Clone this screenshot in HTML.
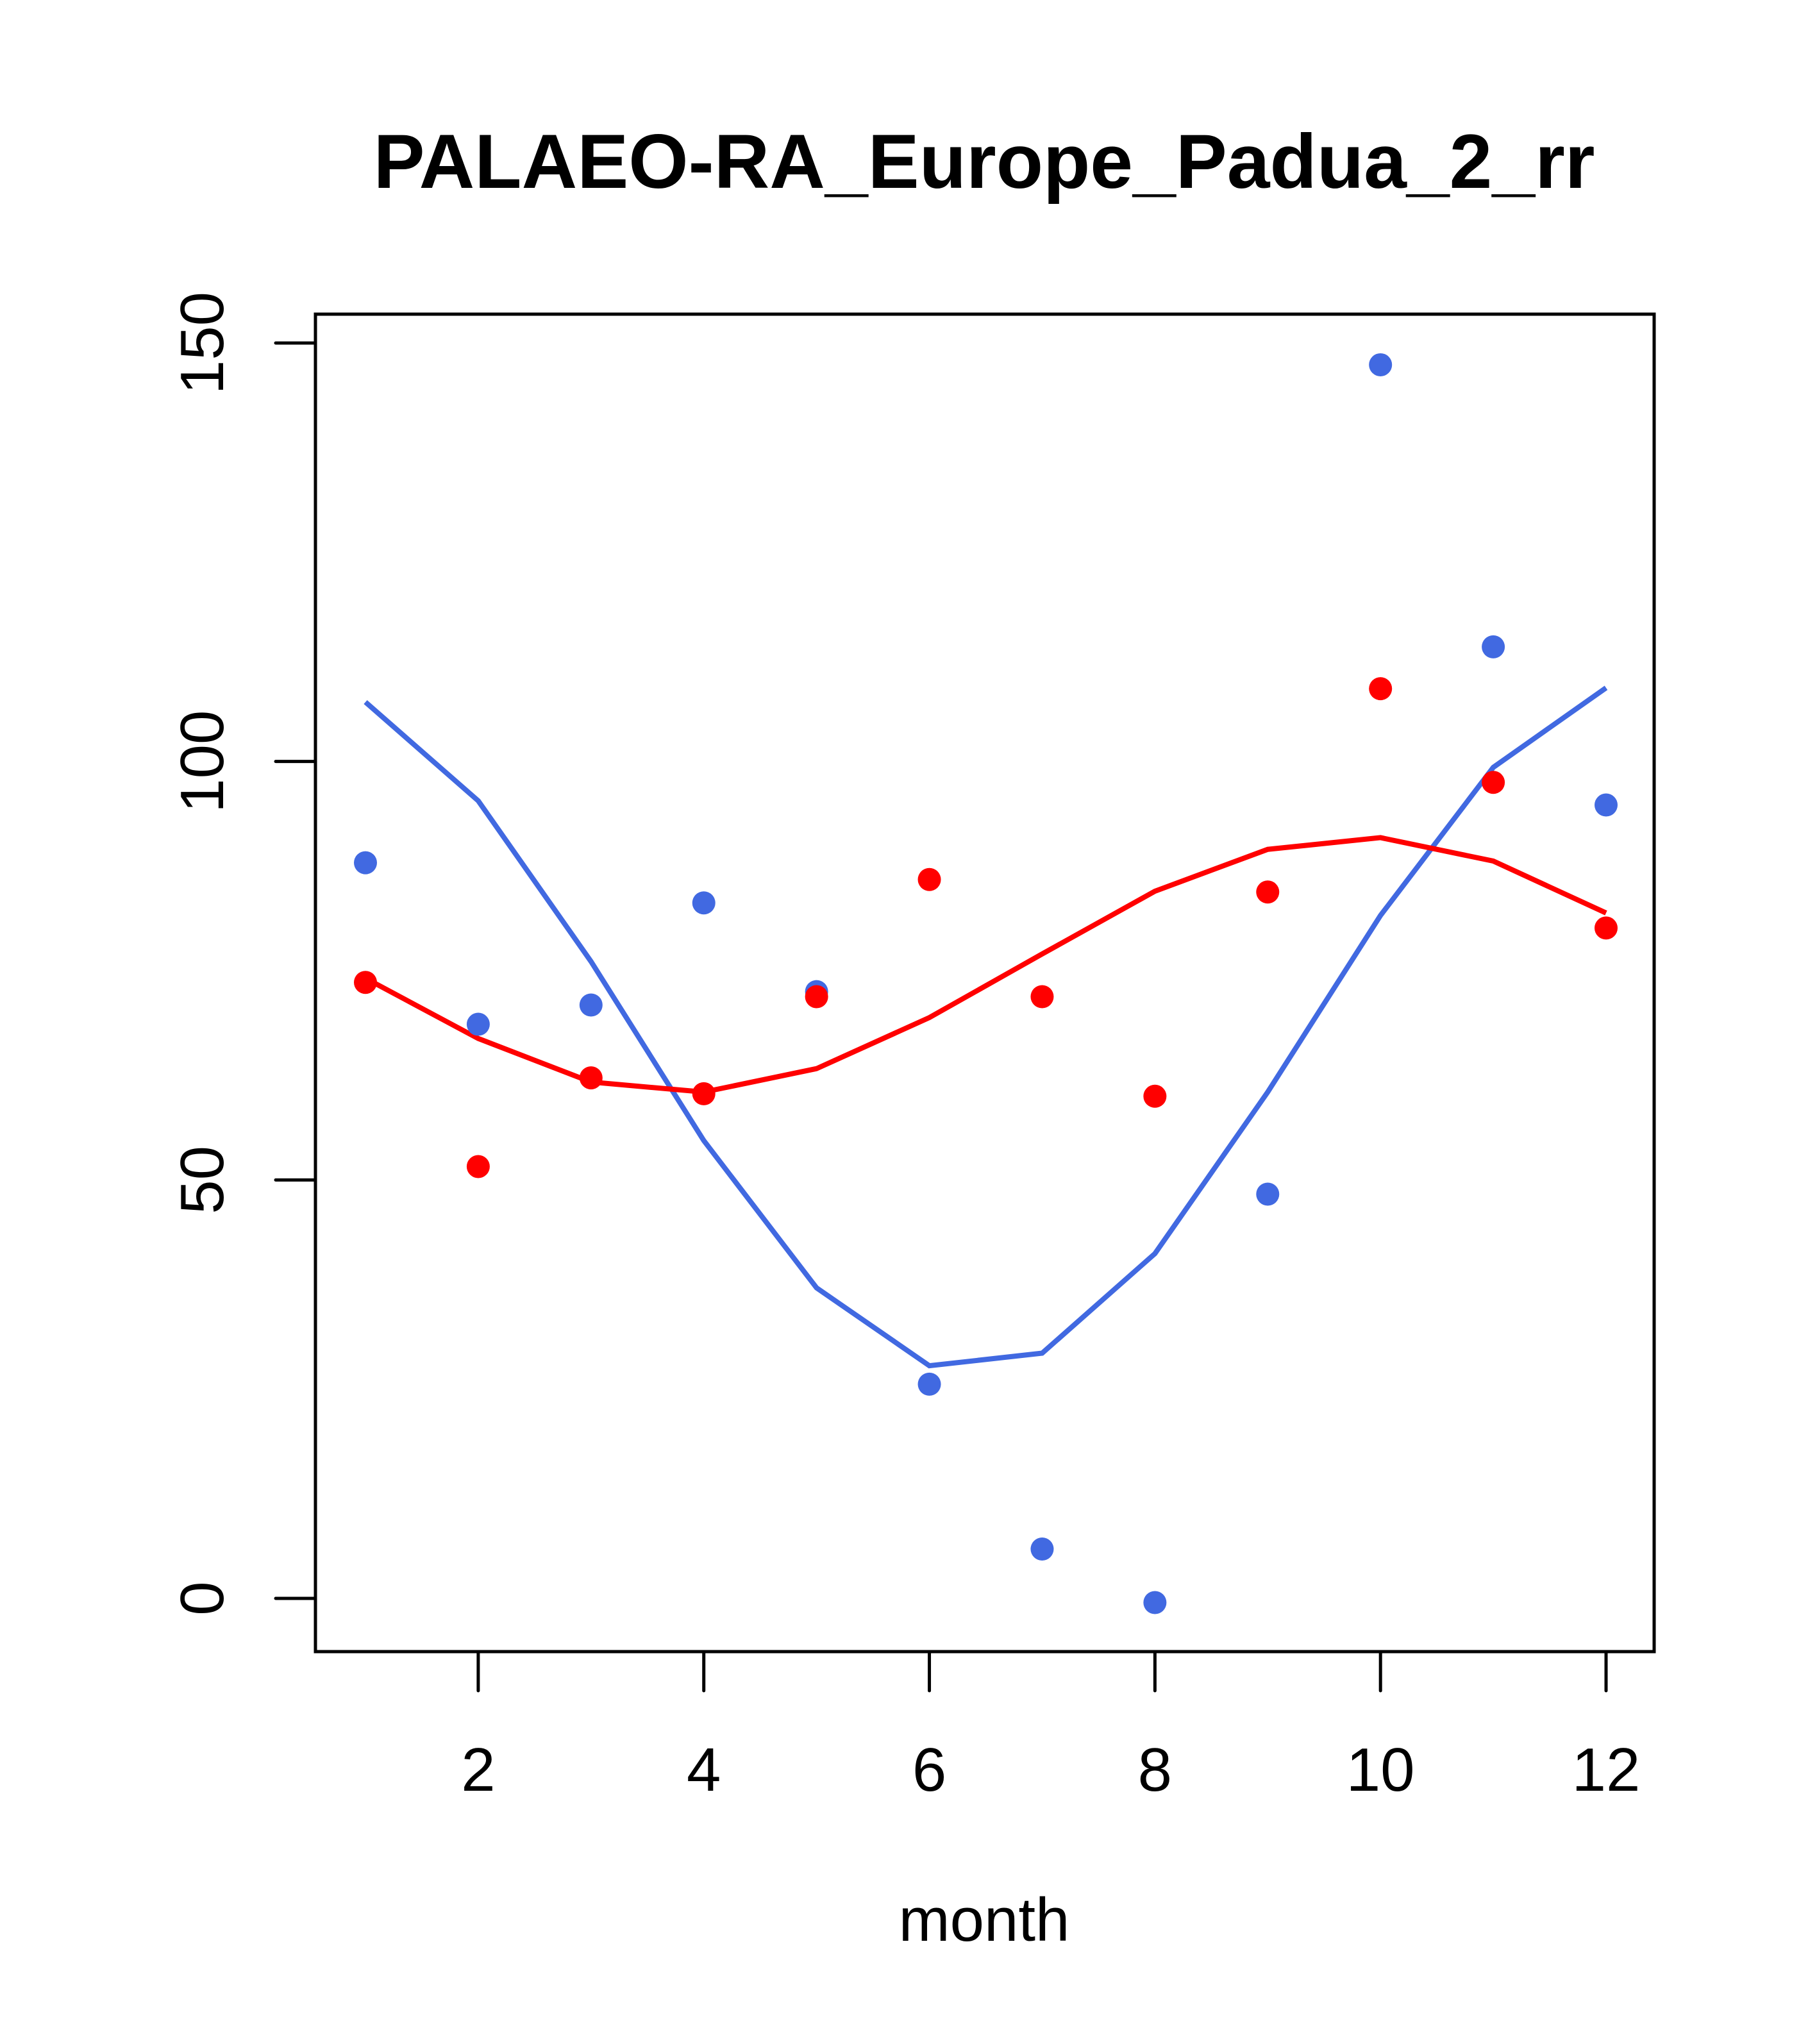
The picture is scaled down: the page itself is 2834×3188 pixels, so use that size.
<!DOCTYPE html>
<html><head><meta charset="utf-8"><style>body{margin:0;background:#fff}svg{display:block}</style></head>
<body>
<svg id="chart" width="2834" height="3188" xmlns="http://www.w3.org/2000/svg" font-family="Liberation Sans, sans-serif"></svg>
<script>
const months=[1,2,3,4,5,6,7,8,9,10,11,12];
const bluePoints=[87.9,68.6,70.9,83.1,72.5,25.6,5.9,-0.5,48.3,147.4,113.7,94.8];
const redPoints=[73.6,51.6,62.2,60.3,71.9,85.9,71.9,60.0,84.4,108.7,97.5,80.1];
const blueLine=[107.1,95.3,76.1,54.7,37.1,27.8,29.3,41.2,60.5,81.6,99.3,108.8];
const redLine=[74.1,66.9,61.7,60.5,63.3,69.4,77.0,84.5,89.5,90.9,88.1,81.9];
const xTicks=[2,4,6,8,10,12];
const yTicks=[0,50,100,150];

const svg=document.getElementById('chart');
const NS='http://www.w3.org/2000/svg';
const X=v=>570+(v-1)*(2505-570)/11;
const Y=v=>2493-v*(2493-535)/150;
function mk(tag,attrs,parent){const e=document.createElementNS(NS,tag);for(const k in attrs)e.setAttribute(k,attrs[k]);(parent||svg).appendChild(e);return e;}

const title=mk('text',{x:1535,y:293,'text-anchor':'middle','font-size':120,'font-weight':'bold'});
title.textContent='PALAEO-RA_Europe_Padua_2_rr';



const box=mk('rect',{x:492,y:490,width:2088,height:2086,fill:'none',stroke:'#000','stroke-width':5});



const xa=mk('g',{});


xTicks.forEach(t=>{
  mk('line',{x1:X(t),x2:X(t),y1:2576,y2:2637,stroke:'#000','stroke-width':5,'stroke-linecap':'round'},xa);
  const tx=mk('text',{x:X(t),y:2793,'text-anchor':'middle','font-size':96},xa);
  tx.textContent=t;
  
  
});
const xl=mk('text',{x:1535,y:3027,'text-anchor':'middle','font-size':96});
xl.textContent='month';



const ya=mk('g',{});


yTicks.forEach(t=>{
  mk('line',{x1:430,x2:492,y1:Y(t),y2:Y(t),stroke:'#000','stroke-width':5,'stroke-linecap':'round'},ya);
  const tx=mk('text',{x:348,y:Y(t),'text-anchor':'middle','font-size':96,transform:`rotate(-90 348 ${Y(t)})`},ya);
  tx.textContent=t;
  
  
});

function line(vals,color,name){
  const p=mk('polyline',{points:vals.map((v,i)=>X(months[i])+','+Y(v)).join(' '),fill:'none',stroke:color,'stroke-width':8});
  
  
}
function pts(vals,color,name){
  const g=mk('g',{fill:color});
  
  
  vals.forEach((v,i)=>{
    const c=mk('circle',{cx:X(months[i]),cy:Y(v),r:18},g);
    
    
  });
}
line(blueLine,'#4169e1','blue-line');
line(redLine,'#ff0000','red-line');
pts(bluePoints,'#4169e1','blue-points');
pts(redPoints,'#ff0000','red-points');
</script>
</body></html>
